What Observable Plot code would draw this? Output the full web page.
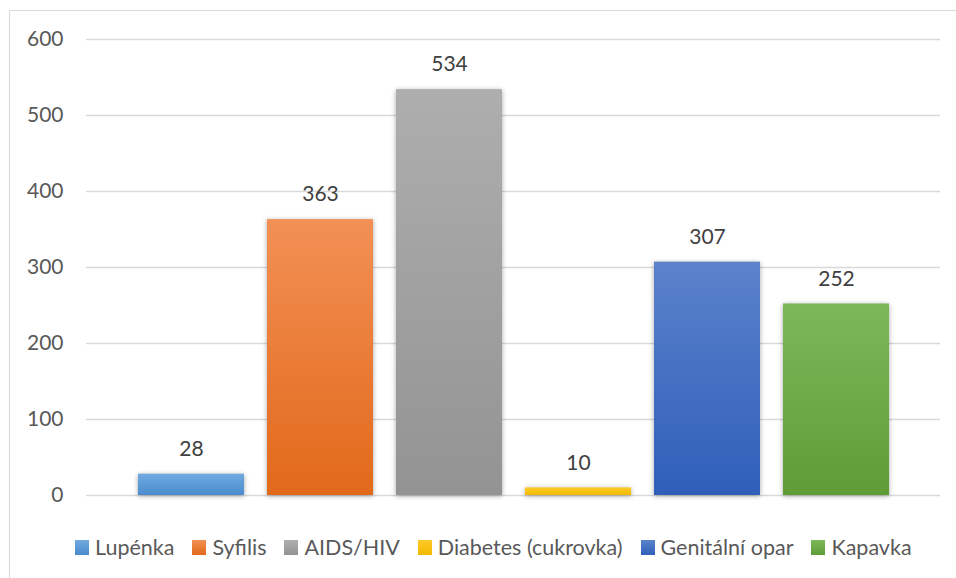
<!DOCTYPE html>
<html><head><meta charset="utf-8">
<script src="https://cdn.jsdelivr.net/npm/d3@7"></script>
<script src="https://cdn.jsdelivr.net/npm/@observablehq/plot@0.6"></script>
<style>
body{margin:0;background:#fff;font-family:Lato,sans-serif;}
#wrap{position:relative;width:956px;height:578px;overflow:hidden;}
#frame{position:absolute;left:9px;top:10px;width:1000px;height:1000px;border:1.5px solid #d9d9d9;box-sizing:border-box;pointer-events:none;}
#legend{display:flex;align-items:center;height:58px;padding-left:75px;box-sizing:border-box;padding-bottom:4px;font-size:21.5px;color:#595959;}
.item{display:flex;align-items:center;margin-right:18px;}
.sw{width:14px;height:15px;margin-right:6px;}
g[aria-label="bar"] rect{filter:drop-shadow(0px 1px 2.5px rgba(0,0,0,0.35));}
</style></head>
<body><div id="wrap"><div id="frame"></div><div id="chart"></div><div id="legend"></div></div>
<script>
const categories = ["Lupénka","Syfilis","AIDS/HIV","Diabetes (cukrovka)","Genitální opar","Kapavka"];
const values = [28,363,534,10,307,252];
const topColors = ["#70a9de","#f29055","#aeaeae","#ffca2a","#5b82cb","#7db85a"];
const bottomColors = ["#4a8bcf","#e2691a","#939393","#f3b900","#2f5fba","#5f9c36"];
const yTicks = [0,100,200,300,400,500,600];

const data = categories.map((c,i)=>({cat:c, val:values[i]}));
const gradIds = categories.map((c,i)=>`url(#grad${i})`);

const plot = Plot.plot({
  width:956, height:520,
  marginLeft:86, marginRight:16, marginTop:39, marginBottom:25,
  insetLeft:39, insetRight:39,
  style:{fontFamily:"Lato,sans-serif", fontSize:"21px", background:"transparent"},
  x:{domain:categories, paddingInner:0.18, paddingOuter:0.09, axis:null},
  y:{domain:[0,600], ticks:yTicks, label:null, tickSize:0, tickPadding:23},
  color:{domain:categories, range:gradIds},
  marks:[
    Plot.ruleY(yTicks,{stroke:"#d9d9d9", strokeWidth:1.5}),
    Plot.axisY({ticks:yTicks, tickSize:0, tickPadding:23, label:null, fill:"#595959", fontSize:21}),
    Plot.barY(data,{x:"cat", y:"val", fill:"cat"}),
    Plot.text(data,{x:"cat", y:"val", text:d=>String(d.val), dy:-25, fill:"#404040", fontSize:21})
  ]
});

const svg = d3.select(plot);
const defs = svg.insert("defs",":first-child");
categories.forEach((c,i)=>{
  const g = defs.append("linearGradient").attr("id","grad"+i).attr("x1",0).attr("y1",0).attr("x2",0).attr("y2",1);
  g.append("stop").attr("offset","0%").attr("stop-color",topColors[i]);
  g.append("stop").attr("offset","100%").attr("stop-color",bottomColors[i]);
});
document.getElementById("chart").appendChild(plot);

const leg = document.getElementById("legend");
categories.forEach((c,i)=>{
  const it = document.createElement("div"); it.className="item";
  const sw = document.createElement("div"); sw.className="sw";
  sw.style.background = `linear-gradient(${topColors[i]},${bottomColors[i]})`;
  const t = document.createElement("span"); t.textContent=c;
  it.appendChild(sw); it.appendChild(t); leg.appendChild(it);
});
</script></body></html>
